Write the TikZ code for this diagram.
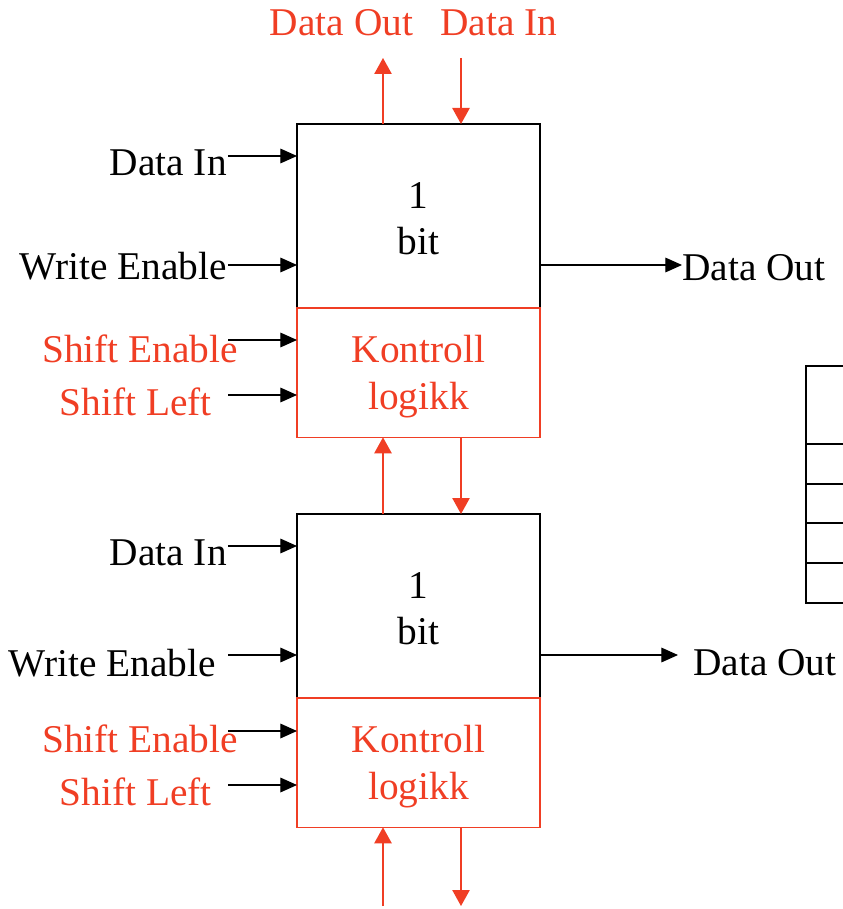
\documentclass[tikz,border=0pt]{standalone}
\usepackage{fontspec}
\setmainfont{Liberation Serif}
\usetikzlibrary{arrows.meta}
\definecolor{dred}{RGB}{240,62,36}
\begin{document}
\begin{tikzpicture}[x=0.75pt,y=-0.75pt,
  txt/.style={font=\fontsize{29.5}{35}\selectfont, inner sep=0pt},
  bitbox/.style={draw=black, line width=1pt, outer sep=0pt, minimum width=182.25pt, minimum height=138pt, inner sep=0pt},
  ctlbox/.style={draw=dred, line width=1pt, outer sep=0pt, minimum width=182.25pt, minimum height=97pt, inner sep=0pt},
  blkarr/.style={draw=black, line width=0.9pt, -{Triangle[length=12.5pt,width=11pt]}},
  redarr/.style={draw=dred, line width=1.1pt, -{Triangle[length=12pt,width=13pt]}},
  redlbl/.style={txt, text=dred},
  blklbl/.style={txt, text=black},
  boxtxt/.style={txt, align=center}
]
\useasboundingbox (0,0) rectangle (842,909);

% ---- upper cell ----
\node[bitbox] (b1) at (418.5,216) {};
\node[ctlbox, anchor=north] (k1) at (b1.south) {};
\node[boxtxt, text=black] (t1) at ([yshift=-2pt]b1.center) {1\\bit};
\node[boxtxt, text=dred] (t2) at ([yshift=-3pt]k1.center) {Kontroll\\logikk};

% ---- lower cell ----
\node[bitbox] (b2) at (418.5,606) {};
\node[ctlbox, anchor=north] (k2) at (b2.south) {};
\node[boxtxt, text=black] (t3) at ([yshift=-2pt]b2.center) {1\\bit};
\node[boxtxt, text=dred] (t4) at ([yshift=-3pt]k2.center) {Kontroll\\logikk};

% ---- top labels and arrows ----
\node[redlbl] (tdo) at (341.5,23) {Data Out};
\node[redlbl] (tdi) at (499,23) {Data In};
\coordinate (tu) at (383,58);
\coordinate (td) at (461,58);
\draw[redarr] (b1.north -| tu) -- (tu);
\draw[redarr] (td) -- (b1.north -| td);

% ---- between cells ----
\draw[redarr] (b2.north -| tu) -- (k1.south -| tu);
\draw[redarr] (k1.south -| td) -- (b2.north -| td);

% ---- bottom ----
\coordinate (bu) at (383,906);
\coordinate (bd) at (461,906);
\draw[redarr] (bu) -- (k2.south -| bu);
\draw[redarr] (k2.south -| bd) -- (bd);

% ---- left inputs, upper cell ----
\node[blklbl, anchor=east] (di1) at (227,163) {Data In};
\node[blklbl, anchor=east] (we1) at (227,266) {Write Enable};
\node[redlbl, anchor=east] (se1) at (238,349) {Shift Enable};
\node[redlbl, anchor=east] (sl1) at (212,402) {Shift Left};
\coordinate (a1) at (228,156);
\coordinate (a2) at (228,265);
\coordinate (a3) at (228,340);
\coordinate (a4) at (228,395);
\draw[blkarr] (a1) -- (b1.west |- a1);
\draw[blkarr] (a2) -- (b1.west |- a2);
\draw[blkarr] (a3) -- (k1.west |- a3);
\draw[blkarr] (a4) -- (k1.west |- a4);

% ---- left inputs, lower cell ----
\node[blklbl, anchor=east] (di2) at (227,553) {Data In};
\node[blklbl, anchor=east] (we2) at (216,663) {Write Enable};
\node[redlbl, anchor=east] (se2) at (238,739) {Shift Enable};
\node[redlbl, anchor=east] (sl2) at (212,792) {Shift Left};
\coordinate (c1) at (228,546);
\coordinate (c2) at (228,655);
\coordinate (c3) at (228,731);
\coordinate (c4) at (228,785);
\draw[blkarr] (c1) -- (b2.west |- c1);
\draw[blkarr] (c2) -- (b2.west |- c2);
\draw[blkarr] (c3) -- (k2.west |- c3);
\draw[blkarr] (c4) -- (k2.west |- c4);

% ---- right outputs ----
\node[blklbl, anchor=west] (do1) at (682,268) {Data Out};
\node[blklbl, anchor=west] (do2) at (693,663) {Data Out};
\draw[blkarr] (b1.east |- 0,265) -- (do1.west |- 0,265);
\draw[blkarr] (b2.east |- 0,655) -- (678,655);

% ---- partial table at right edge ----
\begin{scope}[line width=2.2pt]
\draw (860,366) -- (806,366) -- (806,603) -- (860,603);
\draw (806,444) -- (860,444);
\draw (806,484) -- (860,484);
\draw (806,523) -- (860,523);
\draw (806,563) -- (860,563);
\end{scope}
\end{tikzpicture}
\end{document}
